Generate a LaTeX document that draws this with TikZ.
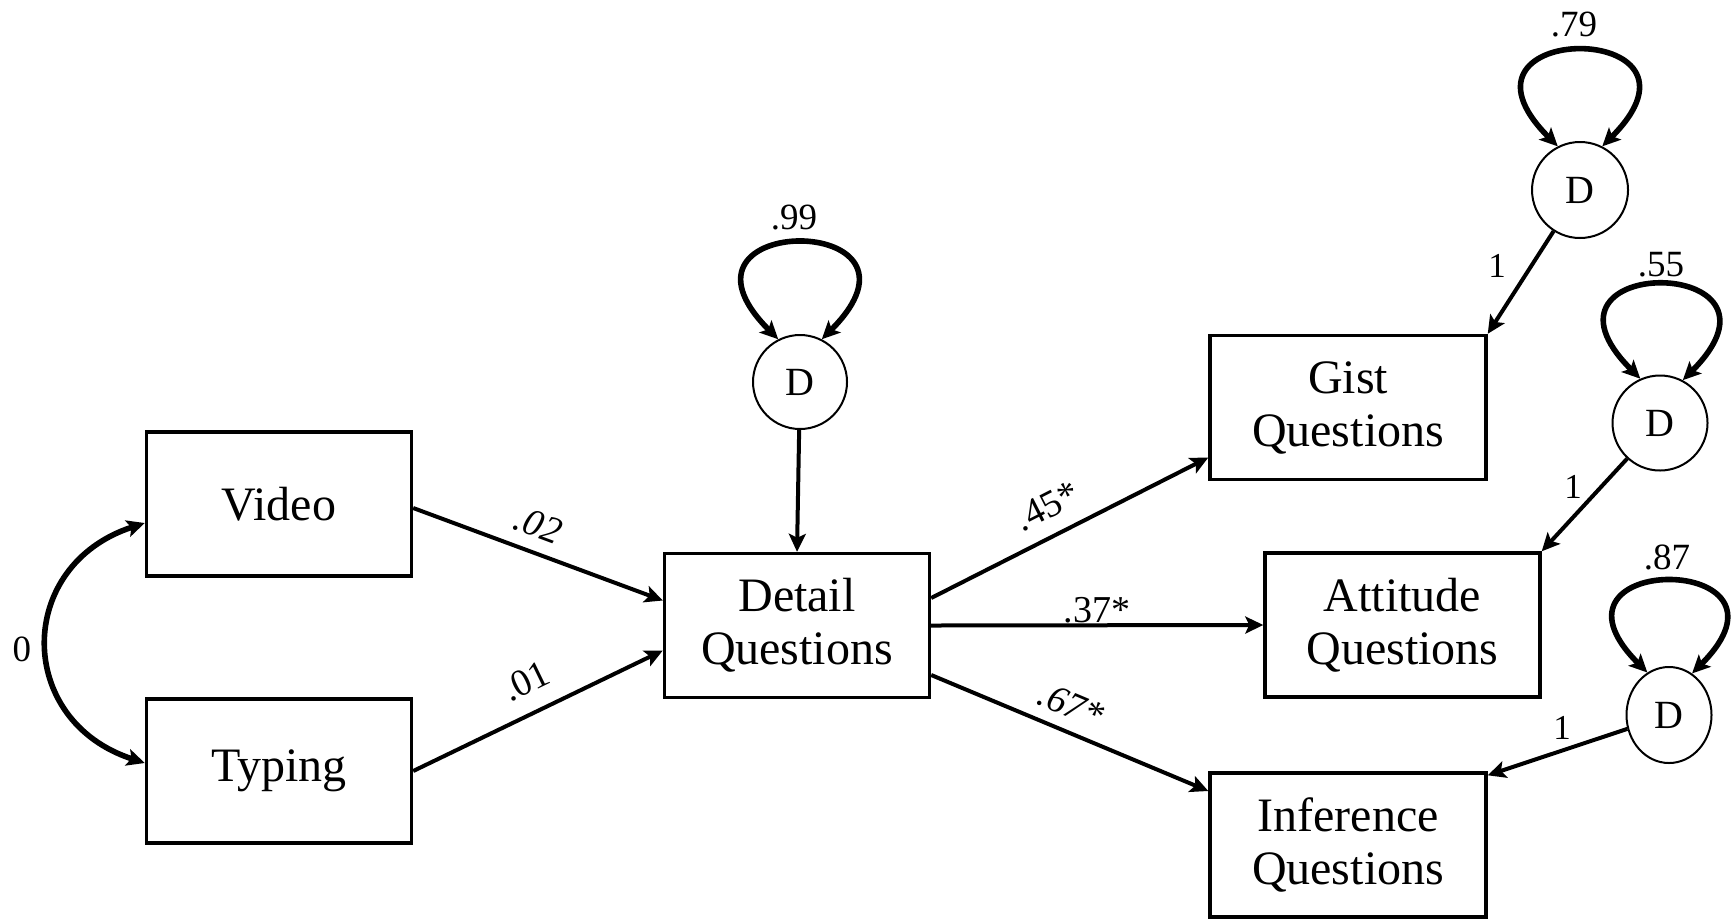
\documentclass[tikz,border=0pt]{standalone}
\usepackage{fontspec}
\setmainfont{Liberation Serif}
\usetikzlibrary{arrows.meta,calc,shapes.geometric}
\begin{document}
\begin{tikzpicture}[x=0.5pt,y=-0.5pt,
  box/.style={draw, line width=1.7pt, minimum width=132.5pt, minimum height=72pt, inner sep=0pt,
    font=\fontsize{24}{26.5}\selectfont, align=center},
  dnode/.style={draw, circle, line width=1pt, minimum size=47pt, inner sep=0pt,
    font=\fontsize{20}{22}\selectfont},
  tip/.tip={Stealth[length=9pt,width=8.5pt,inset=2pt]},
  pathar/.style={line width=2pt, -tip},
  var/.style={line width=2.8pt, tip-tip},
  lbl/.style={inner sep=0pt, font=\fontsize{19}{21}\selectfont},
  ilbl/.style={inner sep=0pt, font=\fontsize{19}{21}\selectfont\itshape},
  vlbl/.style={inner sep=0pt, font=\fontsize{18.5}{20}\selectfont},
  onelbl/.style={inner sep=0pt, font=\fontsize{17.5}{19}\selectfont}
]
\fill[white] (0,0) rectangle (1732,922);
\useasboundingbox (0,0) rectangle (1732,922);

% boxes
\node[box] (V) at (279,504) {Video};
\node[box] (T) at (279,771) {Typing};
\node[box] (Det) at (797,625.5) {Detail\\Questions};
\node[box, minimum width=138pt] (G) at (1348,407.5) {Gist\\Questions};
\node[box, minimum width=137.5pt] (A) at (1402.5,625) {Attitude\\Questions};
\node[box, minimum width=138pt] (I) at (1348,845) {Inference\\Questions};

% disturbances
\node[dnode] (D0) at (800,382) {D};
\node[dnode, minimum size=48pt] (D1) at (1580,190) {D};
\node[dnode, minimum size=47.5pt] (D2) at (1660,423) {D};
\node[dnode, shape=ellipse, minimum width=42.5pt, minimum height=48pt] (D3) at (1669,715) {D};

% covariance
\draw[var] ([yshift=-9.5pt]V.west) to[out=198,in=162,looseness=1.46] ([yshift=4pt]T.west);
\node[vlbl] (l0) at (22,649) {0};

% paths
\draw[pathar] ([yshift=-2pt]V.east) -- ([yshift=12.5pt]Det.west);
\draw[pathar] (T.east) -- ([yshift=-12.5pt]Det.west);
\draw[pathar] ([yshift=13.75pt]Det.east) -- ([yshift=-25pt]G.west);
\draw[pathar] (Det.east) -- (A.west);
\draw[pathar] ([yshift=-24.75pt]Det.east) -- ([yshift=27pt]I.west);
\draw[pathar] (D0) -- (Det.north);
\draw[pathar] (D1) -- (G.north east);
\draw[pathar] (D2) -- (A.north east);
\draw[pathar] (D3) -- ([yshift=-2pt]I.north east);

% path labels
\node[ilbl, rotate=-20.4] (l02) at (538,525) {.02};
\node[lbl, rotate=25.9] (l01) at (526,681) {.01};
\node[lbl, rotate=27.1] (l45) at (1047,506) {.45*};
\node[lbl] (l37) at (1097,610) {.37*};
\node[ilbl, rotate=-22.9] (l67) at (1071,705) {.67*};
\node[onelbl] (l1a) at (1497,266) {1};
\node[onelbl] (l1b) at (1573,487) {1};
\node[onelbl] (l1c) at (1562,728) {1};

% variance loops
\draw[var] (D0.117) .. controls +(135:90.5pt) and +(45:90.5pt) .. (D0.63);
\draw[var] (D1.117) .. controls +(135:90pt) and +(45:90pt) .. (D1.63);
\draw[var] (D2.114) .. controls +(135:89pt) and +(45:89pt) .. (D2.62);
\draw[var] (D3.117) .. controls +(135:86pt) and +(45:86pt) .. (D3.61);
\node[vlbl] (v99) at (794,218) {.99};
\node[vlbl] (v79) at (1574,25) {.79};
\node[vlbl] (v55) at (1661,265) {.55};
\node[vlbl] (v87) at (1667,557) {.87};
\end{tikzpicture}
\end{document}
